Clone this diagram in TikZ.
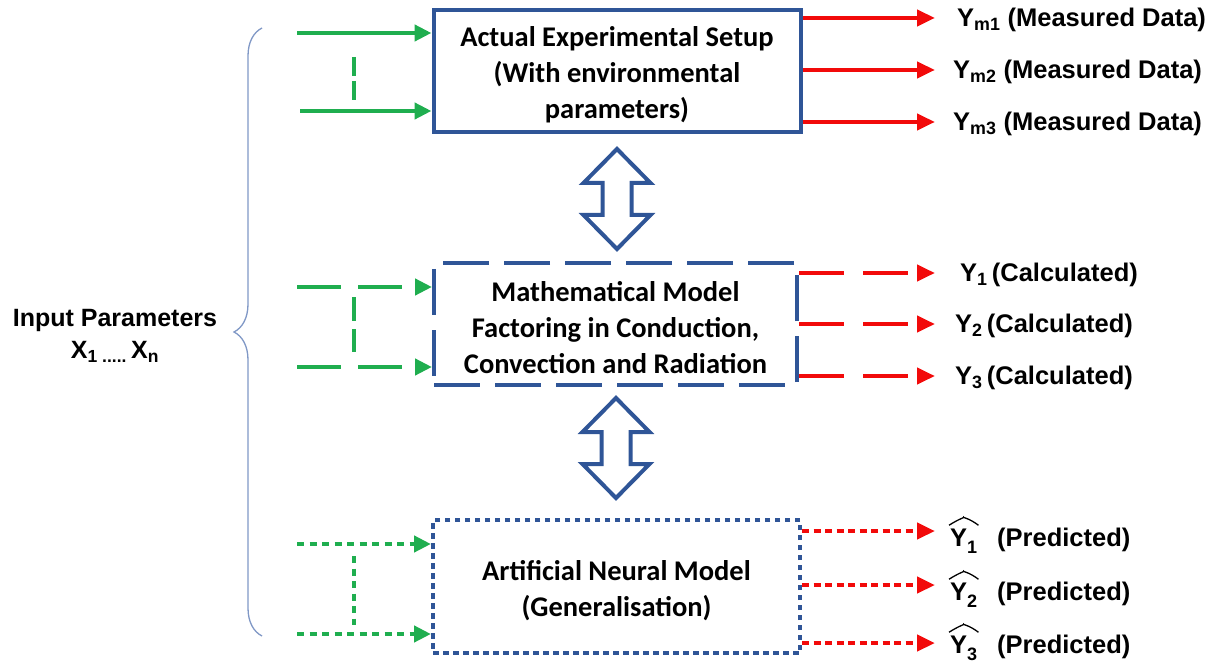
\documentclass[tikz,border=0pt]{standalone}
\usepackage{fontspec}
\setmainfont{Liberation Sans}
\newfontfamily\boxfont{Carlito}
\usetikzlibrary{arrows.meta,decorations.pathreplacing}
\definecolor{navy}{HTML}{2F5597}
\definecolor{grn}{HTML}{1FAE4F}
\definecolor{rd}{HTML}{F20A0A}
\definecolor{bracec}{HTML}{8098C6}
\tikzset{
  blockbox/.style={draw=navy, line width=4pt, inner sep=0pt},
  solidbox/.style={blockbox},
  dashbox/.style={blockbox, dash pattern=on 46pt off 15pt},
  dotbox/.style={blockbox, dash pattern=on 5.5pt off 4.5pt},
  boxtext/.style={inner sep=0pt, align=center,
    font=\boxfont\bfseries\fontsize{28.5}{36}\selectfont},
  inarrow/.style={draw=grn, line width=4.5pt, -{Triangle[length=17pt,width=16pt]}},
  outarrow/.style={draw=rd, line width=4.5pt, -{Triangle[length=18pt,width=16pt]}},
  inlink/.style={draw=grn, line width=4.5pt},
  longdash/.style={dash pattern=on 44pt off 17pt},
  reddash/.style={dash pattern=on 45pt off 19pt},
  greendot/.style={dash pattern=on 7pt off 5.5pt},
  reddot/.style={dash pattern=on 7pt off 4.5pt},
  lbl/.style={anchor=west, inner sep=0pt, font=\bfseries\fontsize{25.5}{30}\selectfont},
  hatline/.style={draw=black, line width=1.3pt},
  twoway/.pic={
    \draw[navy, line width=4pt, fill=white, line join=miter]
      (0,-50) -- (33.5,-16) -- (14.5,-16) -- (14.5,16) -- (33.5,16) -- (0,50)
      -- (-33.5,16) -- (-14.5,16) -- (-14.5,-16) -- (-33.5,-16) -- cycle;
  }
}
\newcommand\predsub[1]{Y\raisebox{-0.55ex}{\fontsize{18}{18}\selectfont #1}}
\begin{document}
\begin{tikzpicture}[x=1pt, y=-1pt]
\useasboundingbox (0,0) rectangle (1216,663);

% the three model blocks and their captions
\node[solidbox, minimum width=367pt, minimum height=122pt] (setup) at (617,71) {};
\node[boxtext] (setuptext) at (617,74.5)
  {Actual Experimental Setup\\(With environmental\\parameters)};
\node[dashbox, minimum width=363pt, minimum height=122pt] (math) at (615.5,324) {};
\node[boxtext] (mathtext) at (615.5,327.5)
  {Mathematical Model\\Factoring in Conduction,\\Convection and Radiation};
\node[dotbox, minimum width=367pt, minimum height=133pt] (ann) at (616.5,586.5) {};
\node[boxtext] (anntext) at (616.5,591)
  {Artificial Neural Model\\(Generalisation)};

% two-way links between the blocks
\pic (link1) at (617,199) {twoway};
\pic (link2) at (616,448) {twoway};

% input side
\node[inner sep=0pt, align=center, font=\bfseries\fontsize{25}{32}\selectfont] (inputs) at (115,336)
  {Input Parameters\\X\textsubscript{1 .....}\,X\textsubscript{n}};
\coordinate (brtop) at (262,28);
\coordinate (brbot) at (262,636);
\draw[bracec, line width=1.3pt, decorate, decoration={brace, amplitude=28pt}] (brbot) -- (brtop);

% inputs to the experimental setup
\coordinate (s1a) at (297,33);
\coordinate (s1b) at (300,111);
\draw[inarrow] (s1a) -- (s1a -| setup.west);
\draw[inarrow] (s1b) -- (s1b -| setup.west);
\coordinate (v1a) at (354,57);
\coordinate (v1b) at (354,100);
\draw[inlink, dash pattern=on 19pt off 5pt] (v1a) -- (v1b);

% inputs to the mathematical model
\coordinate (s2a) at (297,287);
\coordinate (s2b) at (297,367);
\draw[inarrow, longdash] (s2a) -- (s2a -| math.west);
\draw[inarrow, longdash] (s2b) -- (s2b -| math.west);
\coordinate (v2a) at (354,297);
\coordinate (v2b) at (354,352);
\draw[inlink, dash pattern=on 24pt off 8pt] (v2a) -- (v2b);

% inputs to the neural model
\coordinate (s3a) at (297,544);
\coordinate (s3b) at (297,634);
\draw[inarrow, greendot] (s3a) -- (s3a -| ann.west);
\draw[inarrow, greendot] (s3b) -- (s3b -| ann.west);
\coordinate (v3a) at (354,556);
\coordinate (v3b) at (354,625);
\draw[inlink, greendot] (v3a) -- (v3b);

% measured outputs
\coordinate (m1) at (935,18);
\coordinate (m2) at (935,70);
\coordinate (m3) at (935,122);
\draw[outarrow] (m1 -| setup.east) -- (m1);
\draw[outarrow] (m2 -| setup.east) -- (m2);
\draw[outarrow] (m3 -| setup.east) -- (m3);
\node[lbl] (lm1) at (957,20) {Y\textsubscript{m1} (Measured Data)};
\node[lbl] (lm2) at (953,72) {Y\textsubscript{m2} (Measured Data)};
\node[lbl] (lm3) at (953,124) {Y\textsubscript{m3} (Measured Data)};

% calculated outputs
\coordinate (c1) at (935,273);
\coordinate (c2) at (935,324);
\coordinate (c3) at (935,376);
\draw[outarrow, reddash] (c1 -| math.east) -- (c1);
\draw[outarrow, reddash] (c2 -| math.east) -- (c2);
\draw[outarrow, reddash] (c3 -| math.east) -- (c3);
\node[lbl] (lc1) at (960,275) {Y\textsubscript{1}\,(Calculated)};
\node[lbl] (lc2) at (955,326) {Y\textsubscript{2}\,(Calculated)};
\node[lbl] (lc3) at (955,378) {Y\textsubscript{3}\,(Calculated)};

% predicted outputs
\coordinate (p1) at (935,531);
\coordinate (p2) at (935,585);
\coordinate (p3) at (935,643);
\draw[outarrow, reddot] (p1 -| ann.east) -- (p1);
\draw[outarrow, reddot] (p2 -| ann.east) -- (p2);
\draw[outarrow, reddot] (p3 -| ann.east) -- (p3);
\node[lbl, anchor=base west] (hy1) at (950,546) {\predsub{1}};
\node[lbl, anchor=base west] (hy2) at (950,600) {\predsub{2}};
\node[lbl, anchor=base west] (hy3) at (950,653) {\predsub{3}};
\foreach \h in {hy1,hy2,hy3}{
  \draw[hatline] ([shift={(-1pt,3pt)}]\h.north west)
    .. controls ([shift={(10pt,10pt)}]\h.north west) and ([shift={(-12pt,11pt)}]\h.north east)
    .. ([shift={(0pt,11pt)}]\h.north)
    .. controls ([shift={(12pt,11pt)}]\h.north west) and ([shift={(-8pt,10pt)}]\h.north east)
    .. ([shift={(1pt,3pt)}]\h.north east);
}
\node[lbl, anchor=base west] (lp1) at (997,546) {(Predicted)};
\node[lbl, anchor=base west] (lp2) at (997,600) {(Predicted)};
\node[lbl, anchor=base west] (lp3) at (997,653) {(Predicted)};
\end{tikzpicture}
\end{document}
